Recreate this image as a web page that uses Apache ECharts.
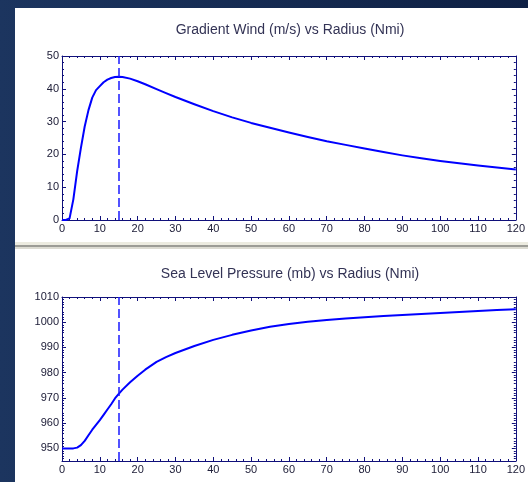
<!DOCTYPE html>
<html>
<head>
<meta charset="utf-8">
<script src="https://cdn.jsdelivr.net/npm/echarts@6/dist/echarts.min.js"></script>
<style>html,body{margin:0;padding:0;}#c{width:528px;height:482px;}</style>
</head>
<body>
<div id="c"></div>
<script>
// Radius (Nmi)
var radius = [0,1,2,3,4,5,6,7,8,9,10,11,12,13,14,15,16,18,20,22,25,27.5,30,35,40,45,50,55,60,65,70,75,80,85,90,95,100,105,110,115,120];
// Gradient wind (m/s)
var wind = [0,0,0.5,6.3,14.8,22,28.5,33.5,37.3,39.6,40.8,42,42.8,43.3,43.6,43.7,43.6,43.1,42.3,41.4,39.9,38.7,37.5,35.3,33.2,31.3,29.6,28.1,26.7,25.3,24.0,22.9,21.8,20.7,19.7,18.8,18.0,17.3,16.6,16.0,15.4];
// Sea level pressure (mb)
var pressure = [950,950,950,950,950.3,951.3,953,955.2,957.4,959.3,961.2,963.3,965.4,967.5,969.8,971.6,973.3,976.2,978.8,981.2,984.3,986.2,987.8,990.6,993,995,996.7,998.2,999.3,1000.2,1000.9,1001.5,1002,1002.5,1002.9,1003.3,1003.7,1004.1,1004.5,1004.8,1005.1];
var rmw = 15;
var titles = ['Gradient Wind (m/s) vs Radius (Nmi)', 'Sea Level Pressure (mb) vs Radius (Nmi)'];
var xTicks = [0,120,10];
var windTicks = [0,50,10];
var presLabels = [950,960,970,980,990,1000,1010];
var presRange = [945,1010];

var axisColor = '#10107a';
var labelColor = '#20203a';
var font = 'Liberation Sans, Arial, sans-serif';

function pair(a, b) { return a.map(function (v, i) { return [v, b[i]]; }); }
function plain(v) { return String(v); }

function tickCfg(custom) {
  var t = {show:true, inside:true, length:4, lineStyle:{color:axisColor}};
  if (custom) t.customValues = custom;
  return t;
}
function minorCfg() {
  return {show:true, splitNumber:5, length:2, lineStyle:{color:axisColor}};
}

function xAxes(gi) {
  return [
    { type:'value', gridIndex:gi, position:'bottom', min:xTicks[0], max:xTicks[1], interval:xTicks[2],
      axisLine:{show:true, onZero:false, lineStyle:{color:axisColor, width:1}},
      axisTick:tickCfg(null), minorTick:minorCfg(),
      splitLine:{show:false},
      axisLabel:{color:labelColor, fontSize:11, fontFamily:font, margin:3, formatter:plain}},
    { type:'value', gridIndex:gi, position:'top', min:xTicks[0], max:xTicks[1], interval:xTicks[2],
      axisLine:{show:true, onZero:false, lineStyle:{color:axisColor, width:1}},
      axisTick:tickCfg(null), minorTick:minorCfg(),
      splitLine:{show:false}, axisLabel:{show:false}}
  ];
}

function yAxesFor(gi, min, max, interval, custom) {
  var lab = {color:labelColor, fontSize:11, fontFamily:font, margin:3, formatter:plain};
  if (custom) lab.customValues = custom;
  var a = { type:'value', gridIndex:gi, position:'left', min:min, max:max, interval:interval,
      axisLine:{show:true, onZero:false, lineStyle:{color:axisColor, width:1}},
      axisTick:tickCfg(custom), minorTick:minorCfg(),
      splitLine:{show:false}, axisLabel:lab };
  var b = { type:'value', gridIndex:gi, position:'right', min:min, max:max, interval:interval,
      axisLine:{show:true, onZero:false, lineStyle:{color:axisColor, width:1}},
      axisTick:tickCfg(custom), minorTick:minorCfg(),
      splitLine:{show:false}, axisLabel:{show:false}};
  return [a, b];
}

var chart = echarts.init(document.getElementById('c'), null, {renderer:'canvas'});

var markLine = {
  silent:true, symbol:['none','none'], label:{show:false},
  lineStyle:{color:'#1a1aff', type:[9,4], width:1.5},
  data:[{xAxis:rmw}]
};

var option = {
  backgroundColor: {type:'linear', x:0, y:0, x2:1, y2:0, colorStops:[{offset:0, color:'#1c355f'},{offset:1, color:'#0e2044'}]},
  animation:false,
  graphic:[
    {type:'rect', shape:{x:15, y:8, width:513, height:234}, style:{fill:'#ffffff'}, z:-10},
    {type:'rect', shape:{x:15, y:242, width:513, height:3}, style:{fill:'#ecebe0'}, z:-10},
    {type:'rect', shape:{x:15, y:245, width:513, height:2}, style:{fill:'#9c9c96'}, z:-10},
    {type:'rect', shape:{x:15, y:247, width:513, height:2}, style:{fill:'#dcdbd2'}, z:-10},
    {type:'rect', shape:{x:15, y:249, width:513, height:233}, style:{fill:'#ffffff'}, z:-10}
  ],
  title:[
    {text:titles[0], left:285, top:18, textAlign:'center',
     textStyle:{fontSize:14, fontWeight:'normal', color:'#333355', fontFamily:font}},
    {text:titles[1], left:285, top:262, textAlign:'center',
     textStyle:{fontSize:14, fontWeight:'normal', color:'#333355', fontFamily:font}}
  ],
  grid:[
    {left:62, top:56, width:457, height:164},
    {left:62, top:297, width:457, height:164}
  ],
  xAxis: xAxes(0).concat(xAxes(1)),
  yAxis: yAxesFor(0, windTicks[0], windTicks[1], windTicks[2], null)
          .concat(yAxesFor(1, presRange[0], presRange[1], 5, presLabels)),
  series:[
    {type:'line', xAxisIndex:0, yAxisIndex:0, data:pair(radius, wind), showSymbol:false,
     smooth:false, lineStyle:{color:'#0000ff', width:2, join:'round'}, markLine:markLine},
    {type:'line', xAxisIndex:2, yAxisIndex:2, data:pair(radius, pressure), showSymbol:false,
     smooth:false, lineStyle:{color:'#0000ff', width:2, join:'round'}, markLine:markLine}
  ]
};
chart.setOption(option);
</script>
</body>
</html>
